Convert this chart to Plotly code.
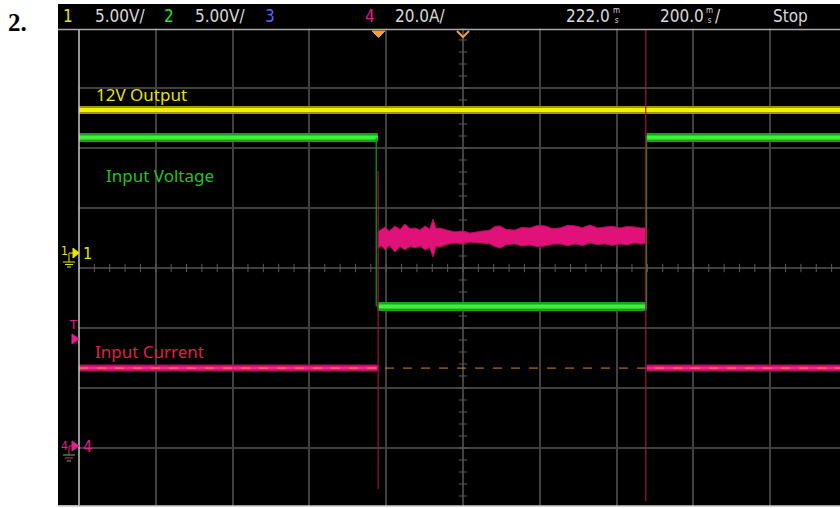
import plotly.graph_objects as go

W, H = 840, 508

# ---------------- data ----------------
# time in ms relative to trigger; screen spans 10 div x 200 ms, centre at +222 ms
t_left, t_right = -778, 1204
t_centre = 222
edge_fall, edge_rise = 0, 700

# channel 1 (12V output, V)
out_v = 12.0
# channel 2 (input voltage, V)
vin_high, vin_low = 25.8, 11.7
# channel 4 (input current, A)
iin_idle = 26.3
band_t = [0, 10, 19, 30, 45, 58, 71, 84, 97, 110, 123, 135, 144, 152, 162, 180, 201, 220, 240, 265, 292, 305,
          318, 335, 357, 375, 396, 415, 436, 455, 475, 495, 514, 533, 553, 572, 592, 611, 631, 650, 670, 685, 700]
band_hi = [71.7, 72.5, 73.3, 72.0, 73.7, 72.5, 74.3, 72.8, 73.0, 72.3, 73.7, 72.6, 76.0, 72.8, 73.0, 72.3, 71.7, 72.0,
           71.3, 71.8, 72.3, 73.5, 73.7, 72.5, 72.3, 73.2, 73.0, 73.8, 73.7, 72.8, 73.0, 73.9, 73.7, 73.1, 74.0, 73.0,
           73.3, 73.6, 73.0, 73.5, 73.3, 73.0, 73.0]
band_lo = [66.3, 67.0, 65.7, 67.2, 65.0, 66.8, 65.7, 66.9, 66.3, 67.0, 65.7, 66.5, 63.3, 66.9, 66.7, 67.5, 68.0, 67.8,
           68.3, 68.0, 67.7, 66.8, 66.3, 67.4, 67.7, 67.0, 67.3, 66.8, 67.0, 67.6, 67.7, 67.1, 67.7, 67.2, 68.0, 67.5,
           67.7, 67.2, 67.7, 67.4, 68.0, 67.6, 68.0]
spike_fall = [92, -14]
spike_rise = [139, -18]

# scope settings
ch_scale = {"1": 5.0, "2": 5.0, "4": 20.0}
ch_offset_div = {"1": 0.2333, "2": -2.983, "4": -2.983}   # ground position in divisions from centre

header_items = [("1", "#e6e600"), ("5.00V/", "#d8d8d8"), ("2", "#33dd33"), ("5.00V/", "#d8d8d8"),
                ("3", "#4a6cff"), ("4", "#e0208a"), ("20.0A/", "#d8d8d8"),
                ("222.0", "#d8d8d8"), ("200.0", "#d8d8d8"), ("Stop", "#d8d8d8")]
labels = ["12V Output", "Input Voltage", "Input Current"]

# ---------------- helpers ----------------
def P(x, y):
    return x / W, 1 - y / H

def yr(ch):
    s, o = ch_scale[ch], ch_offset_div[ch]
    return [(-4 - o) * s, (4 - o) * s]

YEL, YEL_D = "#f2f200", "#9c9600"
GRN, GRN_D = "#3cf03c", "#16a516"
MAG, MAG_D = "#f0288a", "#b80c5e"
ORG = "#f0a030"
GRID = "#404040"

fig = go.Figure()

# minor ticks on centre lines (div axis)
fig.add_trace(go.Scatter(x=[t_centre + 40 * k for k in range(-25, 25)], y=[0] * 50, mode="markers",
                         marker=dict(symbol="line-ns", size=6, line=dict(color="#5a5a5a", width=1)),
                         xaxis="x", yaxis="y", hoverinfo="skip", showlegend=False))
fig.add_trace(go.Scatter(x=[t_centre] * 41, y=[0.2 * k for k in range(-20, 21)], mode="markers",
                         marker=dict(symbol="line-ew", size=6, line=dict(color="#5a5a5a", width=1)),
                         xaxis="x", yaxis="y", hoverinfo="skip", showlegend=False))

# ---- channel 4 : current ----
base_x = [t_left, edge_fall, None, edge_rise, t_right]
base_y = [iin_idle, iin_idle, None, iin_idle, iin_idle]
fig.add_trace(go.Scatter(x=base_x, y=base_y, mode="lines", line=dict(color=MAG_D, width=7),
                         yaxis="y4", showlegend=False, hoverinfo="skip"))
fig.add_trace(go.Scatter(x=base_x, y=base_y, mode="lines", line=dict(color=MAG, width=3),
                         yaxis="y4", showlegend=False, hoverinfo="skip"))
fig.add_trace(go.Scatter(x=band_t, y=band_lo, mode="lines", line=dict(color=MAG_D, width=1),
                         yaxis="y4", showlegend=False, hoverinfo="skip"))
fig.add_trace(go.Scatter(x=band_t, y=band_hi, mode="lines", line=dict(color=MAG_D, width=1),
                         fill="tonexty", fillcolor="#e0127a", yaxis="y4", showlegend=False, hoverinfo="skip"))
# trigger level
fig.add_trace(go.Scatter(x=[t_left, t_right], y=[iin_idle, iin_idle], mode="lines",
                         line=dict(color=ORG, width=1, dash="dash"), opacity=0.85,
                         yaxis="y4", showlegend=False, hoverinfo="skip"))

# ---- channel 2 : input voltage ----
g_x = [t_left, edge_fall, None, edge_fall, edge_rise, None, edge_rise, t_right]
g_y = [vin_high, vin_high, None, vin_low, vin_low, None, vin_high, vin_high]
fig.add_trace(go.Scatter(x=g_x, y=g_y, mode="lines", line=dict(color=GRN_D, width=9),
                         yaxis="y3", showlegend=False, hoverinfo="skip"))
fig.add_trace(go.Scatter(x=g_x, y=g_y, mode="lines", line=dict(color=GRN, width=4),
                         yaxis="y3", showlegend=False, hoverinfo="skip"))
fig.add_trace(go.Scatter(x=[edge_fall - 4, edge_fall - 4, None, edge_rise, edge_rise],
                         y=[vin_high, vin_low, None, vin_low, vin_high], mode="lines",
                         line=dict(color="#12a012", width=1.2), yaxis="y3", showlegend=False, hoverinfo="skip"))

# ---- channel 1 : 12V output ----
fig.add_trace(go.Scatter(x=[t_left, t_right], y=[out_v, out_v], mode="lines", line=dict(color=YEL_D, width=8),
                         yaxis="y2", showlegend=False, hoverinfo="skip"))
fig.add_trace(go.Scatter(x=[t_left, t_right], y=[out_v, out_v], mode="lines", line=dict(color=YEL, width=4),
                         yaxis="y2", showlegend=False, hoverinfo="skip"))

# current transient spikes
fig.add_trace(go.Scatter(x=[edge_fall + 1, edge_fall + 1, None, edge_rise - 2, edge_rise - 2],
                         y=spike_fall + [None] + spike_rise, mode="lines",
                         line=dict(color="#a0104e", width=1.2), yaxis="y4", showlegend=False, hoverinfo="skip"))

# ---------------- decorations ----------------
shapes = []
x0, y0 = P(58, 4); x1, y1 = P(840, 505.5)
shapes.append(dict(type="rect", xref="paper", yref="paper", x0=x0, y0=y1, x1=x1, y1=y0,
                   fillcolor="black", line=dict(width=0), layer="below"))
# bottom strip
shapes.append(dict(type="rect", xref="paper", yref="paper", x0=0, x1=1, y0=0, y1=1 - 505.5 / H,
                   fillcolor="white", line=dict(width=0), layer="above"))
shapes.append(dict(type="line", xref="paper", yref="paper", x0=58 / W, x1=1, y0=1 - 506 / H, y1=1 - 506 / H,
                   line=dict(color="#b0b0b0", width=1), layer="above"))
# header separator and left border
shapes.append(dict(type="rect", xref="paper", yref="paper", x0=58 / W, x1=1, y0=1 - 28.5 / H, y1=1 - 4 / H,
                   fillcolor="black", line=dict(width=0), layer="above"))
shapes.append(dict(type="line", xref="paper", yref="paper", x0=58 / W, x1=1, y0=1 - 29.5 / H, y1=1 - 29.5 / H,
                   line=dict(color="#a8a8a8", width=1.5), layer="above"))
shapes.append(dict(type="line", xref="paper", yref="paper", x0=79 / W, x1=79 / W, y0=1 - 505 / H, y1=1 - 30 / H,
                   line=dict(color="#c8c8c8", width=1.5), layer="above"))

def path(pts, close=True):
    s = "M " + " L ".join(f"{x / W:.5f},{1 - y / H:.5f}" for x, y in pts)
    return s + (" Z" if close else "")

# trigger markers on top
shapes.append(dict(type="path", xref="paper", yref="paper", path=path([(372, 31), (385, 31), (378.5, 37.5)]),
                   fillcolor=ORG, line=dict(color=ORG, width=1), layer="above"))
shapes.append(dict(type="path", xref="paper", yref="paper", path=path([(457, 31), (463, 37), (469, 31)], close=False),
                   line=dict(color=ORG, width=2), layer="above"))
# channel 1 marker
shapes.append(dict(type="path", xref="paper", yref="paper", path=path([(73, 248), (79, 253), (73, 258)]),
                   fillcolor="#e6e600", line=dict(color="#e6e600", width=1), layer="above"))
shapes.append(dict(type="path", xref="paper", yref="paper",
                   path=path([(73, 253), (69, 253), (69, 262)], close=False),
                   line=dict(color="#e6e600", width=1), layer="above"))
for (a, b, yy) in [(63, 75, 262), (65, 73, 264.5), (67, 71, 267)]:
    shapes.append(dict(type="line", xref="paper", yref="paper", x0=a / W, x1=b / W, y0=1 - yy / H, y1=1 - yy / H,
                       line=dict(color="#e6e600", width=1), layer="above"))
# T marker
shapes.append(dict(type="path", xref="paper", yref="paper", path=path([(72, 334), (79, 339), (72, 344)]),
                   fillcolor="#e0208a", line=dict(color="#e0208a", width=1), layer="above"))
# channel 4 marker
shapes.append(dict(type="path", xref="paper", yref="paper", path=path([(72, 441), (79, 446), (72, 451)]),
                   fillcolor="#e0208a", line=dict(color="#e0208a", width=1), layer="above"))
shapes.append(dict(type="path", xref="paper", yref="paper",
                   path=path([(73, 446), (69, 446), (69, 455)], close=False),
                   line=dict(color="#e0208a", width=1), layer="above"))
for (a, b, yy, c) in [(63, 75, 455, "#33dd33"), (65, 73, 458, "#e0208a"), (67, 71, 461, "#33dd33")]:
    shapes.append(dict(type="line", xref="paper", yref="paper", x0=a / W, x1=b / W, y0=1 - yy / H, y1=1 - yy / H,
                       line=dict(color=c, width=1), layer="above"))

ann = []
HF = "Liberation Sans Narrow, DejaVu Sans Condensed, Arial Narrow, sans-serif"
hx = [68, 93, 169, 193, 270, 370, 393, 564, 658, 771]
hanchor = ["center", "left", "center", "left", "center", "center", "left", "left", "left", "left"]
for (txt, col), xx, an in zip(header_items, hx, hanchor):
    ann.append(dict(text=txt, x=xx / W, y=1 - 16 / H, xref="paper", yref="paper", xanchor=an, yanchor="middle",
                    showarrow=False, font=dict(family=HF, size=17, color=col)))
for xx in (611, 704):
    ann.append(dict(text="m<br>s", x=xx / W, y=1 - 16 / H, xref="paper", yref="paper", xanchor="left",
                    yanchor="middle", showarrow=False, font=dict(family=HF, size=8, color="#d8d8d8")))
ann.append(dict(text="/", x=713 / W, y=1 - 16 / H, xref="paper", yref="paper", xanchor="left", yanchor="middle",
                showarrow=False, font=dict(family=HF, size=17, color="#d8d8d8")))

LF = "Noto Sans, Open Sans, sans-serif"
for txt, xx, yy, col in [(labels[0], 94, 94, "#e6e000"), (labels[1], 104, 175, "#22c322"), (labels[2], 93, 351, "#e02040")]:
    ann.append(dict(text=txt, x=xx / W, y=1 - yy / H, xref="paper", yref="paper", xanchor="left", yanchor="middle",
                    showarrow=False, font=dict(family=LF, size=17, color=col)))

# side marker texts
for txt, xx, yy, sz, col in [("1", 64, 251, 12, "#e6e600"), ("1", 87, 253, 16, "#e6e600"),
                             ("T", 73, 324, 13, "#e0208a"), ("4", 64, 446, 12, "#e0208a"),
                             ("4", 87, 446, 16, "#e0208a")]:
    ann.append(dict(text=txt, x=xx / W, y=1 - yy / H, xref="paper", yref="paper", xanchor="center", yanchor="middle",
                    showarrow=False, font=dict(family=HF, size=sz, color=col)))

ann.append(dict(text="<b>2.</b>", x=17 / W, y=1 - 22 / H, xref="paper", yref="paper", xanchor="center",
                yanchor="middle", showarrow=False,
                font=dict(family="Liberation Serif, Times New Roman, serif", size=25, color="black")))

dom_y = [0, 1 - 28 / H]
hidden = dict(overlaying="y", domain=dom_y, visible=False, showgrid=False, zeroline=False, fixedrange=True)
fig.update_layout(
    width=W, height=H, margin=dict(l=0, r=0, t=0, b=0),
    paper_bgcolor="white", plot_bgcolor="black", showlegend=False,
    xaxis=dict(domain=[79 / W, 1], range=[t_left, t_left + (840 - 79) * 200 / 76.8], tick0=t_centre, dtick=200,
               showgrid=True, gridcolor=GRID, gridwidth=1.5, zeroline=False, showticklabels=False, ticks="",
               showline=False),
    yaxis=dict(domain=dom_y, range=[-4, 4], dtick=1, showgrid=True, gridcolor=GRID, gridwidth=1.5,
               zeroline=False, showticklabels=False, ticks="", showline=False),
    yaxis2=dict(range=yr("1"), **hidden),
    yaxis3=dict(range=yr("2"), **hidden),
    yaxis4=dict(range=yr("4"), **hidden),
    shapes=shapes, annotations=ann,
)

fig.write_html("out.html", config={"displayModeBar": False},
               post_script="document.body.style.margin='0';document.body.style.overflow='hidden';")
